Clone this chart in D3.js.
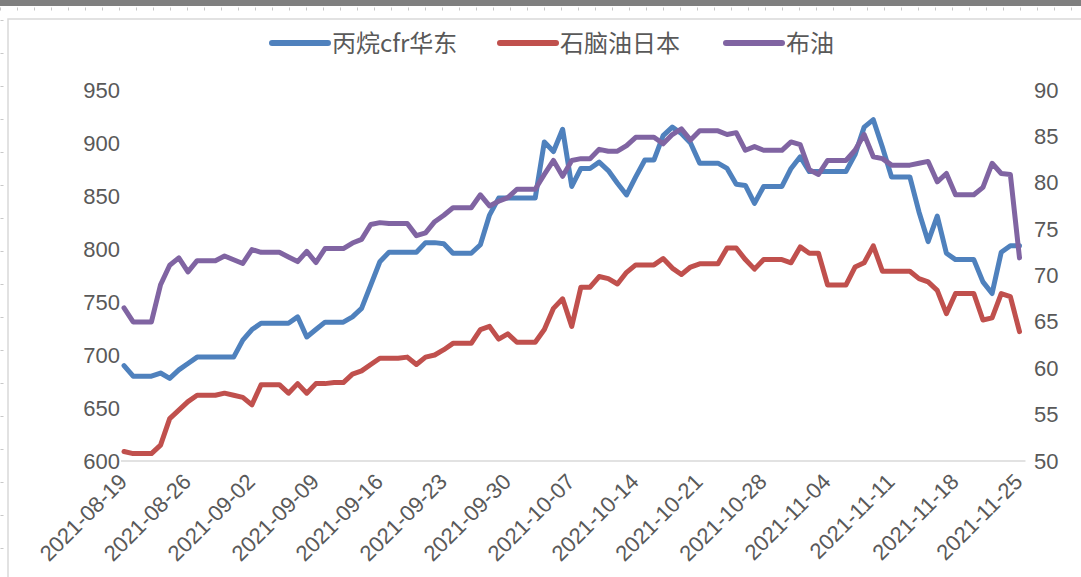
<!DOCTYPE html>
<html>
<head>
<meta charset="utf-8">
<script src="https://cdn.jsdelivr.net/npm/d3@7"></script>
<style>
  body { margin: 0; background: #fff; overflow: hidden; }
  svg { display: block; font-family: "Noto Sans", "Noto Sans CJK SC", sans-serif; }
</style>
</head>
<body>
<svg id="chart" width="1081" height="577"></svg>
<script>
// Tick labels on the date axis (one a week)
const tickLabels = [
  '2021-08-19', '2021-08-26', '2021-09-02', '2021-09-09', '2021-09-16',
  '2021-09-23', '2021-09-30', '2021-10-07', '2021-10-14', '2021-10-21',
  '2021-10-28', '2021-11-04', '2021-11-11', '2021-11-18', '2021-11-25'
];

// Daily values, 2021-08-19 .. 2021-11-25
const propane = [
  690, 680, 680, 680, 683, 678, 686, 692, 698, 698,
  698, 698, 698, 714, 724, 730, 730, 730, 730, 736,
  717, 724, 731, 731, 731, 736, 744, 766, 788, 797,
  797, 797, 797, 806, 806, 805, 796, 796, 796, 804,
  832, 848, 848, 848, 848, 848, 901, 892, 913, 859,
  876, 876, 882, 874, 862, 851, 868, 884, 884, 907,
  915, 909, 900, 881, 881, 881, 876, 861, 860, 843,
  859, 859, 859, 876, 887, 873, 873, 873, 873, 873,
  889, 915, 922, 896, 868, 868, 868, 835, 807, 831,
  796, 790, 790, 790, 769, 758, 797, 803, 803
];
const naphtha = [
  609, 607, 607, 607, 615, 640, 648, 656, 662, 662,
  662, 664, 662, 660, 653, 672, 672, 672, 664, 673,
  664, 673, 673, 674, 674, 682, 685, 691, 697, 697,
  697, 698, 691, 698, 700, 705, 711, 711, 711, 724,
  727, 715, 720, 712, 712, 712, 724, 744, 753, 727,
  764, 764, 774, 772, 767, 778, 785, 785, 785, 791,
  782, 776, 783, 786, 786, 786, 801, 801, 790, 781,
  790, 790, 790, 787, 802, 796, 796, 766, 766, 766,
  783, 787, 803, 779, 779, 779, 779, 772, 769, 761,
  739, 758, 758, 758, 733, 735, 758, 755, 722
];
const brent = [
  66.5, 65.0, 65.0, 65.0, 69.0, 71.1, 71.9, 70.4, 71.6, 71.6,
  71.6, 72.1, 71.7, 71.3, 72.8, 72.5, 72.5, 72.5, 72.0, 71.5,
  72.6, 71.4, 72.9, 72.9, 72.9, 73.5, 73.9, 75.5, 75.7, 75.6,
  75.6, 75.6, 74.3, 74.6, 75.8, 76.5, 77.3, 77.3, 77.3, 78.7,
  77.5, 78.0, 78.4, 79.3, 79.3, 79.3, 80.9, 82.4, 80.7, 82.4,
  82.6, 82.6, 83.6, 83.4, 83.4, 84.0, 84.9, 84.9, 84.9, 84.2,
  85.2, 85.8, 84.6, 85.6, 85.6, 85.6, 85.2, 85.4, 83.5, 83.9,
  83.5, 83.5, 83.5, 84.4, 84.1, 81.4, 80.9, 82.4, 82.4, 82.4,
  83.5, 85.2, 82.8, 82.6, 81.9, 81.9, 81.9, 82.1, 82.3, 80.1,
  81.0, 78.7, 78.7, 78.7, 79.5, 82.1, 81.0, 80.9, 71.9
];

const leftTicks = [600, 650, 700, 750, 800, 850, 900, 950];
const rightTicks = [50, 55, 60, 65, 70, 75, 80, 85, 90];

const seriesNames = ['丙烷cfr华东', '石脑油日本', '布油'];
const colors = ['#4F81BD', '#C0504D', '#8064A2'];

const parseDate = d3.timeParse('%Y-%m-%d');
const tickDates = tickLabels.map(parseDate);
const days = d3.timeDay.range(tickDates[0], d3.timeDay.offset(tickDates[tickDates.length - 1], 1));

const svg = d3.select('#chart');
const textColor = '#595959';

// page chrome: grey bar, ruler dots, chart frame
svg.append('rect').attr('x', 0).attr('y', 0).attr('width', 1081).attr('height', 6).attr('fill', '#7f7f7f');
svg.append('line').attr('x1', 0).attr('x2', 1081).attr('y1', 9).attr('y2', 9)
  .attr('stroke', '#c8c8c8').attr('stroke-width', 3).attr('stroke-dasharray', '1,16');
svg.append('line').attr('x1', 2).attr('x2', 2).attr('y1', 20).attr('y2', 577)
  .attr('stroke', '#c8c8c8').attr('stroke-width', 3).attr('stroke-dasharray', '1,32');
svg.append('rect').attr('x', 8).attr('y', 19).attr('width', 1100).attr('height', 600)
  .attr('fill', 'none').attr('stroke', '#d9d9d9').attr('stroke-width', 1.5);

// scales
const x = d3.scaleTime().domain([days[0], days[days.length - 1]]).range([124, 1019.5]);
const yL = d3.scaleLinear().domain([600, 950]).range([461, 90]);
const yR = d3.scaleLinear().domain([50, 90]).range([461, 90]);

// axes
const gx = svg.append('g').attr('transform', `translate(0, ${yL(600)})`)
  .call(d3.axisBottom(x).tickValues(tickDates).tickFormat(d3.timeFormat('%Y-%m-%d')).tickSize(0));
gx.select('.domain').remove();
gx.selectAll('text')
  .attr('x', 0).attr('y', 0).attr('dy', 0)
  .attr('text-anchor', 'end')
  .attr('transform', 'translate(4, 22) rotate(-45)')
  .attr('fill', textColor).style('font-size', '22px');

svg.append('line')
  .attr('x1', x(days[0]) - 3).attr('x2', x(days[days.length - 1]) + 6)
  .attr('y1', yL(600)).attr('y2', yL(600))
  .attr('stroke', '#d9d9d9').attr('stroke-width', 1.5);

const gl = svg.append('g').attr('transform', 'translate(124, 0)')
  .call(d3.axisLeft(yL).tickValues(leftTicks).tickSize(0).tickPadding(4));
gl.select('.domain').remove();
gl.selectAll('text').attr('fill', textColor).style('font-size', '22px');

const gr = svg.append('g').attr('transform', 'translate(1025, 0)')
  .call(d3.axisRight(yR).tickValues(rightTicks).tickSize(0).tickPadding(9));
gr.select('.domain').remove();
gr.selectAll('text').attr('fill', textColor).style('font-size', '22px');

// lines
const lineL = d3.line().x((d, i) => x(days[i])).y(d => yL(d));
const lineR = d3.line().x((d, i) => x(days[i])).y(d => yR(d));

[[propane, lineL], [naphtha, lineL], [brent, lineR]].forEach(([data, gen], k) => {
  svg.append('path')
    .datum(data)
    .attr('fill', 'none')
    .attr('stroke', colors[k])
    .attr('stroke-width', 5)
    .attr('stroke-linejoin', 'round')
    .attr('stroke-linecap', 'round')
    .attr('d', gen);
});

// legend
const legendX = [270, 498, 724];
const legend = svg.append('g').attr('transform', 'translate(0, 43)');
seriesNames.forEach((name, k) => {
  const g = legend.append('g').attr('transform', `translate(${legendX[k]}, 0)`);
  g.append('line').attr('x1', 2).attr('x2', 58).attr('y1', 0).attr('y2', 0)
    .attr('stroke', colors[k]).attr('stroke-width', 6).attr('stroke-linecap', 'round');
  g.append('text').attr('x', 62).attr('y', 0).attr('dy', '0.36em')
    .attr('fill', textColor).style('font-size', '24px')
    .style('font-family', '"Noto Sans CJK SC", sans-serif')
    .text(name);
});
</script>
</body>
</html>
